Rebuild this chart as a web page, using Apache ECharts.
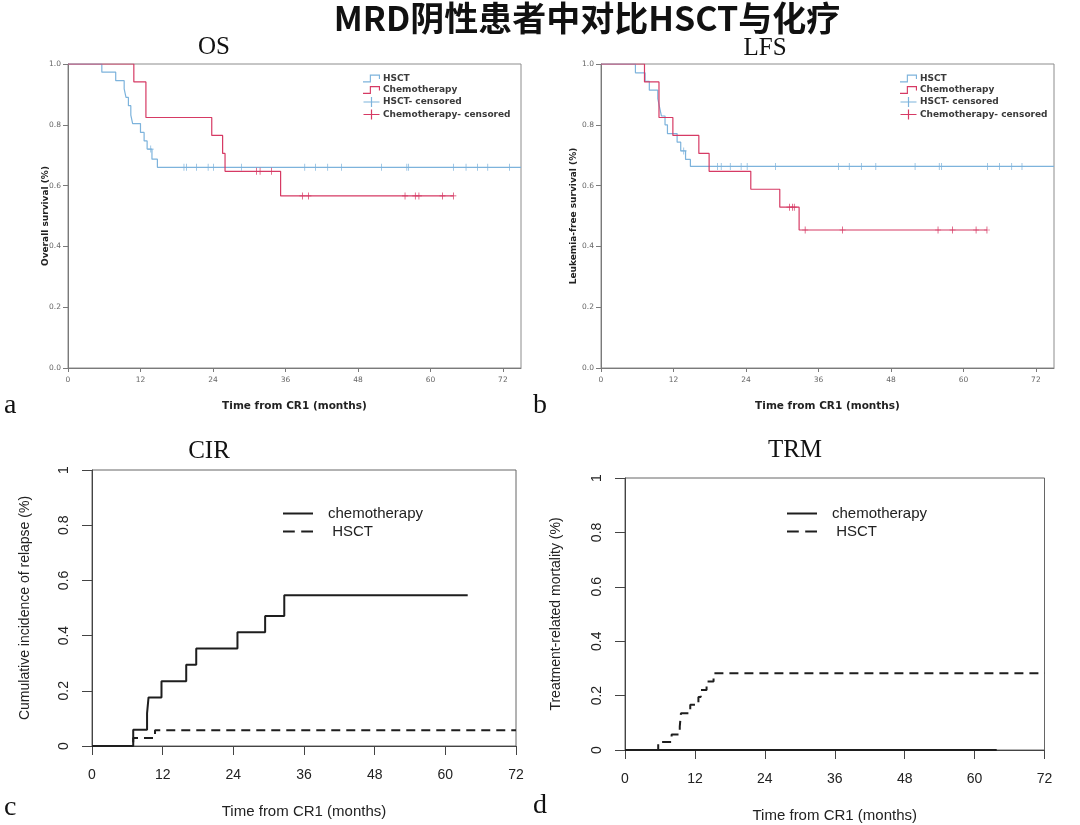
<!DOCTYPE html>
<html><head><meta charset="utf-8">
<script src="https://cdn.jsdelivr.net/npm/echarts@6/dist/echarts.min.js"></script>
<style>html,body{margin:0;padding:0;background:#fff}#c{width:1080px;height:825px}</style>
</head><body><div id="c"></div>
<script>
// ---------- data ----------
const xTicks = [0, 12, 24, 36, 48, 60, 72];

// OS
const osHsctTime = [0, 5.6, 7.9, 9.3, 9.6, 10.0, 10.4, 10.7, 12.0, 12.6, 13.1, 13.9, 14.8, 75];
const osHsctSurv = [1, 0.973, 0.945, 0.918, 0.89, 0.863, 0.832, 0.804, 0.775, 0.747, 0.72, 0.687, 0.66, 0.66];
const osHsctCensTime = [13.7, 19.2, 19.6, 21.3, 23.2, 24.1, 28.7, 39.2, 41.0, 43.0, 45.3, 51.9, 56.1, 56.4, 63.8, 65.9, 67.8, 69.5, 73.1];
const osHsctCensSurv = [0.72, 0.66, 0.66, 0.66, 0.66, 0.66, 0.66, 0.66, 0.66, 0.66, 0.66, 0.66, 0.66, 0.66, 0.66, 0.66, 0.66, 0.66, 0.66];
const osChemoTime = [0, 10.9, 12.9, 23.8, 25.6, 26.0, 35.2, 63.8];
const osChemoSurv = [1, 0.941, 0.824, 0.765, 0.706, 0.647, 0.566, 0.566];
const osChemoCensTime = [31.2, 31.8, 33.7, 38.8, 39.8, 55.8, 57.5, 58.1, 62.0, 63.8];
const osChemoCensSurv = [0.647, 0.647, 0.647, 0.566, 0.566, 0.566, 0.566, 0.566, 0.566, 0.566];

// LFS
const lfsHsctTime = [0, 5.7, 7.3, 8.0, 9.4, 9.7, 10.0, 10.6, 11.0, 12.6, 13.2, 14.0, 14.8, 75];
const lfsHsctSurv = [1, 0.971, 0.943, 0.914, 0.886, 0.857, 0.829, 0.80, 0.771, 0.743, 0.714, 0.686, 0.663, 0.663];
const lfsHsctCensTime = [13.7, 19.3, 19.9, 21.4, 23.2, 24.2, 28.9, 39.3, 41.1, 43.1, 45.5, 52.0, 56.0, 56.4, 64.0, 66.0, 68.0, 69.7];
const lfsHsctCensSurv = [0.714, 0.663, 0.663, 0.663, 0.663, 0.663, 0.663, 0.663, 0.663, 0.663, 0.663, 0.663, 0.663, 0.663, 0.663, 0.663, 0.663, 0.663];
const lfsChemoTime = [0, 7.2, 9.6, 11.9, 16.2, 17.9, 24.8, 29.6, 32.8, 63.9];
const lfsChemoSurv = [1, 0.941, 0.824, 0.765, 0.706, 0.647, 0.588, 0.529, 0.454, 0.454];
const lfsChemoCensTime = [31.2, 31.7, 32.0, 33.8, 40.0, 55.8, 58.2, 62.1, 63.9];
const lfsChemoCensSurv = [0.529, 0.529, 0.529, 0.454, 0.454, 0.454, 0.454, 0.454, 0.454];

// CIR
const cirChemoTime = [0, 7.0, 9.35, 9.6, 11.8, 16.0, 17.7, 24.7, 29.4, 32.65, 63.8];
const cirChemoInc  = [0, 0.059, 0.118, 0.176, 0.235, 0.294, 0.353, 0.412, 0.471, 0.546, 0.546];
const cirHsctTime = [0, 7.0, 10.7, 72];
const cirHsctInc  = [0, 0.029, 0.057, 0.057];

// TRM
const trmChemoTime = [0, 63.8];
const trmChemoInc  = [0, 0];
const trmHsctTime = [0, 5.7, 8.0, 9.4, 9.6, 11.2, 12.6, 13.0, 14.0, 15.2, 72];
const trmHsctInc  = [0, 0.029, 0.057, 0.086, 0.135, 0.166, 0.195, 0.221, 0.252, 0.282, 0.282];

// ---------- helpers ----------
const pairs = (t, v) => t.map((x, i) => [x, v[i]]);
const BLUE = '#7db3dc', RED = '#d63a64', INK = '#1e1e1e';
const stepIcon = 'path://M0,8H6V2H15V6H14V3H7V9H0Z';
const plusIcon = 'path://M0,4.4H7.4V0H8.6V4.4H16V5.6H8.6V10H7.4V5.6H0Z';
const plusSym = 'path://M4.4,0H5.6V10H4.4Z M0,4.5H10V5.5H0Z';
const solidIcon = 'path://M0,0H30V2H0Z';
const dashIcon = 'path://M0,0H11V2H0Z M17,0H28V2H17Z';

function topGrid(left, top) {
  return { left, top, width: 453, height: 304, show: true, borderColor: '#8c8c8c', borderWidth: 1, containLabel: false, outerBoundsMode: 'none' };
}
function botGrid(left, top, width, height) {
  return { left, top, width, height, show: true, borderColor: '#666', borderWidth: 1, containLabel: false, outerBoundsMode: 'none' };
}
function topX(gi) {
  return {
    type: 'value', gridIndex: gi, min: 0, max: 75, interval: 12,
    axisLine: { show: true, onZero: false, lineStyle: { color: '#7a7a7a', width: 1 } },
    axisTick: { show: true, length: 4, customValues: xTicks, lineStyle: { color: '#7a7a7a' } },
    axisLabel: { customValues: xTicks, fontSize: 7.5, color: '#666', margin: 8, fontFamily: 'DejaVu Sans',
      formatter: v => (v % 12 === 0 ? String(v) : '') },
    splitLine: { show: false },
    name: 'Time from CR1 (months)', nameLocation: 'middle', nameGap: 33, nameMoveOverlap: false,
    nameTextStyle: { fontFamily: 'DejaVu Sans', fontWeight: 'bold', fontSize: 10.5, color: '#222' }
  };
}
function topY(gi, name, gap) {
  return {
    type: 'value', gridIndex: gi, min: 0, max: 1, interval: 0.2,
    axisLine: { show: true, onZero: false, lineStyle: { color: '#7a7a7a', width: 1 } },
    axisTick: { show: true, length: 5, lineStyle: { color: '#7a7a7a' } },
    axisLabel: { fontSize: 7.5, color: '#666', margin: 7, fontFamily: 'DejaVu Sans', formatter: v => v.toFixed(1) },
    splitLine: { show: false },
    name, nameLocation: 'middle', nameRotate: 90, nameGap: gap, nameMoveOverlap: false,
    nameTextStyle: { fontFamily: 'DejaVu Sans', fontWeight: 'bold', fontSize: 9, color: '#222' }
  };
}
function botX(gi) {
  return {
    type: 'value', gridIndex: gi, min: 0, max: 72, interval: 12,
    axisLine: { show: true, onZero: false, lineStyle: { color: '#444', width: 1 } },
    axisTick: { show: true, length: 9, lineStyle: { color: '#444' } },
    axisLabel: { fontSize: 14, color: '#222', margin: 22, fontFamily: 'Liberation Sans' },
    splitLine: { show: false },
    name: 'Time from CR1 (months)', nameLocation: 'middle', nameGap: 58, nameMoveOverlap: false,
    nameTextStyle: { fontFamily: 'Liberation Sans', fontSize: 15, color: '#222' }
  };
}
function botY(gi, name, gap) {
  return {
    type: 'value', gridIndex: gi, min: 0, max: 1, interval: 0.2,
    axisLine: { show: true, onZero: false, lineStyle: { color: '#444', width: 1 } },
    axisTick: { show: true, length: 10, lineStyle: { color: '#444' } },
    axisLabel: { fontSize: 14, color: '#222', margin: 21, rotate: 90, fontFamily: 'Liberation Sans' },
    splitLine: { show: false },
    name, nameLocation: 'middle', nameRotate: 90, nameGap: gap, nameMoveOverlap: false,
    nameTextStyle: { fontFamily: 'Liberation Sans', fontSize: 14, color: '#222' }
  };
}
function kmLine(name, gi, t, v, color) {
  return { type: 'line', name, xAxisIndex: gi, yAxisIndex: gi, data: pairs(t, v), step: 'end',
    symbol: 'none', showSymbol: false, lineStyle: { color, width: 1.2 }, itemStyle: { color }, z: 3 };
}
function censor(name, gi, t, v, color) {
  return { type: 'scatter', name, xAxisIndex: gi, yAxisIndex: gi, data: pairs(t, v),
    symbol: plusSym, symbolSize: [6, 7], itemStyle: { color, opacity: 1 }, z: 4 };
}
function ciLine(name, gi, t, v, dashed) {
  return { type: 'line', name, xAxisIndex: gi, yAxisIndex: gi, data: pairs(t, v), step: 'end',
    symbol: 'none', showSymbol: false,
    lineStyle: { color: INK, width: 2, type: dashed ? [9, 6] : 'solid' }, itemStyle: { color: INK }, z: 3 };
}
const topNames = ['HSCT', 'Chemotherapy', 'HSCT- censored', 'Chemotherapy- censored'];
function topLegend(left, top) {
  const sel = {};
  topNames.forEach(n => { sel[n] = true; });
  return {
    left, top, padding: 0, orient: 'vertical', itemWidth: 17, itemHeight: 10, itemGap: 2.5,
    selectedMode: false, selected: sel,
    textStyle: { fontFamily: 'DejaVu Sans', fontWeight: 'bold', fontSize: 9, color: '#3a3a3a', padding: [0, 0, 0, -2] },
    data: [
      { name: topNames[0], icon: stepIcon, itemStyle: { color: BLUE, opacity: 1 } },
      { name: topNames[1], icon: stepIcon, itemStyle: { color: RED, opacity: 1 } },
      { name: topNames[2], icon: plusIcon, itemStyle: { color: BLUE, opacity: 1 } },
      { name: topNames[3], icon: plusIcon, itemStyle: { color: RED, opacity: 1 } }
    ]
  };
}
function botLegend(left, top) {
  return {
    left, top, padding: 0, orient: 'vertical', itemWidth: 30, itemHeight: 14, itemGap: 3,
    selectedMode: false,
    textStyle: { fontFamily: 'Liberation Sans', fontSize: 15, color: '#222', padding: [0, 0, 0, 10] },
    data: [{ name: 'chemotherapy', icon: solidIcon, itemStyle: { color: INK } },
           { name: ' HSCT', icon: dashIcon, itemStyle: { color: INK } }]
  };
}
function label(text, x, y, font, align) {
  return { type: 'text', x, y, style: { text, font, fill: '#111', textAlign: align || 'center', textVerticalAlign: 'middle' } };
}

const chart = echarts.init(document.getElementById('c'), null, { renderer: 'canvas' });
chart.setOption({
  animation: false,
  backgroundColor: '#fff',
  grid: [topGrid(68, 64), topGrid(601, 64), botGrid(92, 470, 424, 276), botGrid(625, 478, 419.5, 272)],
  xAxis: [topX(0), topX(1), botX(2), botX(3)],
  yAxis: [topY(0, 'Overall survival (%)', 18), topY(1, 'Leukemia-free survival (%)', 23),
          botY(2, 'Cumulative incidence of relapse (%)', 60), botY(3, 'Treatment-related mortality (%)', 62)],
  legend: [topLegend(363, 74), topLegend(900, 74), botLegend(283, 506), botLegend(787, 506)],
  series: [
    kmLine('HSCT', 0, osHsctTime, osHsctSurv, BLUE),
    kmLine('Chemotherapy', 0, osChemoTime, osChemoSurv, RED),
    censor('HSCT- censored', 0, osHsctCensTime, osHsctCensSurv, BLUE),
    censor('Chemotherapy- censored', 0, osChemoCensTime, osChemoCensSurv, RED),
    kmLine('HSCT', 1, lfsHsctTime, lfsHsctSurv, BLUE),
    kmLine('Chemotherapy', 1, lfsChemoTime, lfsChemoSurv, RED),
    censor('HSCT- censored', 1, lfsHsctCensTime, lfsHsctCensSurv, BLUE),
    censor('Chemotherapy- censored', 1, lfsChemoCensTime, lfsChemoCensSurv, RED),
    ciLine('chemotherapy', 2, cirChemoTime, cirChemoInc, false),
    ciLine(' HSCT', 2, cirHsctTime, cirHsctInc, true),
    ciLine('chemotherapy', 3, trmChemoTime, trmChemoInc, false),
    ciLine(' HSCT', 3, trmHsctTime, trmHsctInc, true)
  ],
  graphic: [
    label('MRD阴性患者中对比HSCT与化疗', 587, 18, 'bold 34px "Noto Sans CJK SC"'),
    label('OS', 214, 47, '25px "Liberation Serif"'),
    label('LFS', 765, 48, '25px "Liberation Serif"'),
    label('CIR', 209, 451, '25px "Liberation Serif"'),
    label('TRM', 795, 450, '25px "Liberation Serif"'),
    label('a', 4, 406, '28px "Liberation Serif"', 'left'),
    label('b', 533, 406, '28px "Liberation Serif"', 'left'),
    label('c', 4, 808, '28px "Liberation Serif"', 'left'),
    label('d', 533, 806, '28px "Liberation Serif"', 'left')
  ]
});
</script></body></html>
